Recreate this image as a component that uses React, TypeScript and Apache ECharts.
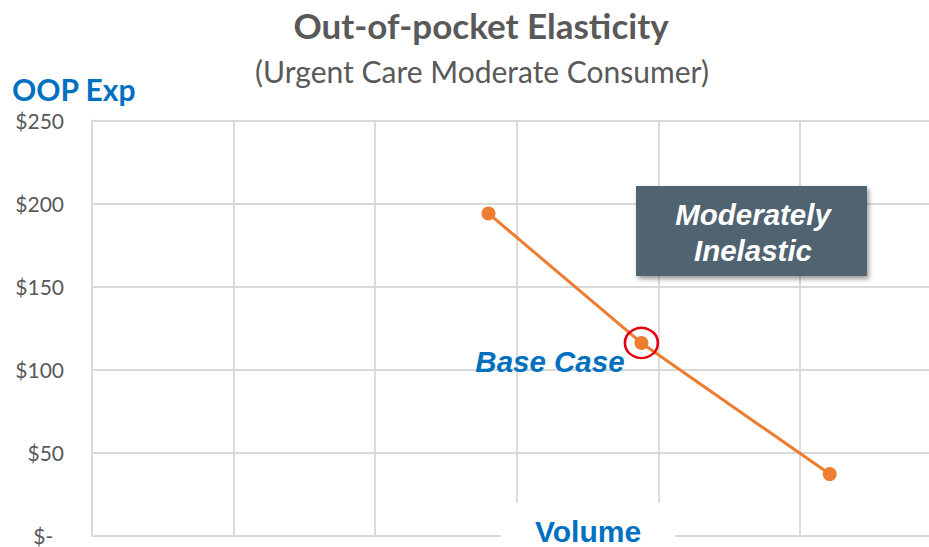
import React, { useEffect, useRef } from "react";
import * as echarts from "echarts";

const volume = [2.8, 3.88, 5.21];
const oopExp = [194, 116, 37];
const baseCaseIndex = 1;
const yTickValues = [0, 50, 100, 150, 200, 250];
const yTickLabels = ["$-  ", "$50", "$100", "$150", "$200", "$250"];
const titleText = "Out-of-pocket Elasticity";
const subtitleText = "(Urgent Care Moderate Consumer)";
const yAxisName = "OOP Exp";
const xAxisName = "Volume";
const baseCaseLabel = "Base Case";
const calloutLines = ["Moderately", "Inelastic"];

const GRID = "#d9d9d9";
const GREY_TEXT = "#595959";
const BLUE = "#0070C0";
const ORANGE = "#ED7D31";
const CAL = "Lato, 'Open Sans', sans-serif";
const ARIAL = "'Liberation Sans', Arial, sans-serif";

export default function App() {
  const ref = useRef<HTMLDivElement>(null);
  useEffect(() => {
    if (!ref.current) return;
    const chart = echarts.init(ref.current, null, { renderer: "svg" });
    const option: any = {
      animation: false,
      backgroundColor: "#ffffff",
      grid: {
        left: 92,
        top: 120.5,
        height: 415,
        width: 849.6,
        containLabel: false,
        outerBoundsMode: "none",
      },
      xAxis: {
        type: "value",
        min: 0,
        max: 6,
        interval: 1,
        axisLine: { show: true, lineStyle: { color: GRID, width: 1.8 } },
        axisTick: { show: false },
        axisLabel: { show: false },
        splitLine: { show: true, lineStyle: { color: GRID, width: 1.8 } },
      },
      yAxis: {
        type: "value",
        min: 0,
        max: 250,
        interval: 50,
        axisLine: { show: true, lineStyle: { color: GRID, width: 1.8 } },
        axisTick: { show: false },
        axisLabel: {
          margin: 28,
          color: GREY_TEXT,
          fontSize: 21,
          lineHeight: 18,
          fontFamily: CAL,
          formatter: (v: number) => {
            const i = yTickValues.indexOf(v);
            return i >= 0 ? yTickLabels[i] : "";
          },
        },
        splitLine: { show: true, lineStyle: { color: GRID, width: 1.8 } },
      },
      series: [
        {
          type: "line",
          data: volume.map((v, i) => [v, oopExp[i]]),
          symbol: "circle",
          symbolSize: 14,
          lineStyle: { color: ORANGE, width: 3 },
          itemStyle: { color: ORANGE, opacity: 1 },
          z: 3,
        },
        {
          type: "scatter",
          data: [[volume[baseCaseIndex], oopExp[baseCaseIndex]]],
          symbol: "circle",
          symbolSize: [33, 30],
          itemStyle: { color: "rgba(0,0,0,0)", borderColor: "#E3000F", borderWidth: 2.5, opacity: 1 },
          emphasis: { disabled: true },
          label: {
            show: true,
            formatter: baseCaseLabel,
            position: "left",
            distance: 0,
            offset: [1, 19],
            color: BLUE,
            fontSize: 29.5,
            fontWeight: "bold",
            fontStyle: "italic",
            fontFamily: ARIAL,
          },
          z: 4,
        },
      ],
      graphic: [
        {
          type: "text",
          x: 481,
          y: 25,
          z: 100,
          style: {
            text: titleText,
            fill: GREY_TEXT,
            font: `bold 35px ${CAL}`,
            textAlign: "center",
            textVerticalAlign: "middle",
          },
        },
        {
          type: "text",
          x: 482,
          y: 71,
          z: 100,
          style: {
            text: subtitleText,
            fill: GREY_TEXT,
            font: `30px ${CAL}`,
            textAlign: "center",
            textVerticalAlign: "middle",
          },
        },
        {
          type: "text",
          x: 12,
          y: 89,
          z: 100,
          style: {
            text: yAxisName,
            fill: BLUE,
            font: `bold 30px ${CAL}`,
            textAlign: "left",
            textVerticalAlign: "middle",
          },
        },
        {
          type: "rect",
          z: 100,
          shape: { x: 636, y: 186, width: 231, height: 90 },
          style: {
            fill: "#4F6470",
            shadowBlur: 5,
            shadowOffsetX: 2,
            shadowOffsetY: 3,
            shadowColor: "rgba(0,0,0,0.4)",
          },
        },
        {
          type: "text",
          x: 753,
          y: 214,
          z: 101,
          style: {
            text: calloutLines[0],
            fill: "#ffffff",
            font: `italic bold 29.5px ${ARIAL}`,
            textAlign: "center",
            textVerticalAlign: "middle",
          },
        },
        {
          type: "text",
          x: 753,
          y: 250,
          z: 101,
          style: {
            text: calloutLines[1],
            fill: "#ffffff",
            font: `italic bold 29.5px ${ARIAL}`,
            textAlign: "center",
            textVerticalAlign: "middle",
          },
        },
        {
          type: "rect",
          z: 100,
          shape: { x: 501, y: 503, width: 174, height: 44 },
          style: { fill: "#ffffff" },
        },
        {
          type: "text",
          x: 588,
          y: 531,
          z: 101,
          style: {
            text: xAxisName,
            fill: BLUE,
            font: `bold 30px ${ARIAL}`,
            textAlign: "center",
            textVerticalAlign: "middle",
          },
        },
      ],
    };
    chart.setOption(option);
    return () => chart.dispose();
  }, []);
  return (
    <div
      ref={ref}
      style={{ position: "absolute", left: 0, top: 0, width: 929, height: 547 }}
    />
  );
}
